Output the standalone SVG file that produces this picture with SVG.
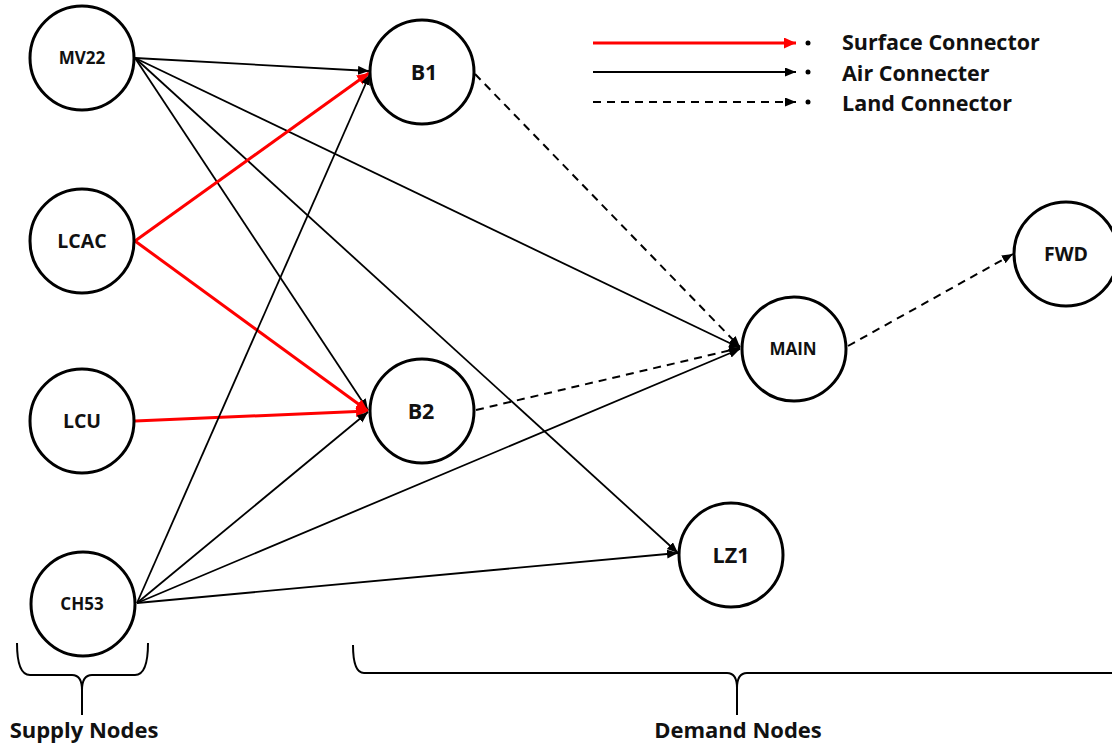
<svg xmlns="http://www.w3.org/2000/svg" width="1112" height="746" viewBox="0 0 1112 746">
<defs>
<marker id="ab" markerUnits="userSpaceOnUse" markerWidth="12" markerHeight="10" refX="11" refY="4.5" orient="auto"><path d="M0,0 L11,4.5 L0,9 z" fill="#000"/></marker>
<marker id="ar" markerUnits="userSpaceOnUse" markerWidth="14" markerHeight="12" refX="12" refY="5.5" orient="auto"><path d="M0,0 L12,5.5 L0,11 z" fill="#f00"/></marker>
<style>
.n{fill:#fff;stroke:#000;stroke-width:3}
.t{font-family:"Open Sans","Noto Sans",sans-serif;font-weight:bold;fill:#111;text-anchor:middle}
.air{stroke:#000;stroke-width:1.8;fill:none;marker-end:url(#ab)}
.sur{stroke:#f00;stroke-width:3;fill:none;marker-end:url(#ar)}
.land{stroke:#000;stroke-width:2;fill:none;stroke-dasharray:8 6;marker-end:url(#ab)}
.br{stroke:#000;stroke-width:2;fill:none}
.lg{font-family:"Open Sans","Noto Sans",sans-serif;font-weight:bold;font-size:21.5px;fill:#111}
.bl{font-family:"Open Sans","Noto Sans",sans-serif;font-weight:bold;font-size:22px;fill:#111;text-anchor:middle}
</style>
</defs>
<rect width="1112" height="746" fill="#fff"/>
<g id="connectors">
<line class="air" x1="135" y1="58" x2="369" y2="71"/>
<line class="air" x1="135" y1="58" x2="740" y2="348"/>
<line class="air" x1="135" y1="58" x2="368" y2="410"/>
<line class="air" x1="135" y1="58" x2="678" y2="553"/>
<line class="sur" x1="135" y1="241" x2="369" y2="73"/>
<line class="sur" x1="135" y1="241" x2="368" y2="411"/>
<line class="sur" x1="135" y1="421" x2="368" y2="411"/>
<line class="air" x1="137" y1="603" x2="370" y2="74"/>
<line class="air" x1="137" y1="603" x2="368" y2="412"/>
<line class="air" x1="137" y1="603" x2="740" y2="349"/>
<line class="air" x1="137" y1="603" x2="678" y2="553"/>
<line class="land" x1="475" y1="74" x2="740" y2="347"/>
<line class="land" x1="476" y1="410" x2="740" y2="348"/>
<line class="land" x1="848" y1="346" x2="1013" y2="254"/>
</g>
<g id="MV22"><circle class="n" cx="82" cy="58" r="52"/><text class="t" x="82" y="64" font-size="17">MV22</text></g>
<g id="LCAC"><circle class="n" cx="82" cy="241" r="52"/><text class="t" x="82" y="248" font-size="19.5">LCAC</text></g>
<g id="LCU"><circle class="n" cx="82" cy="421" r="52"/><text class="t" x="82" y="428" font-size="19.5">LCU</text></g>
<g id="CH53"><circle class="n" cx="83" cy="604" r="52"/><text class="t" x="82" y="610" font-size="17">CH53</text></g>
<g id="B1"><circle class="n" cx="422" cy="72" r="52"/><text class="t" x="424" y="80" font-size="21.5">B1</text></g>
<g id="B2"><circle class="n" cx="422" cy="411" r="52"/><text class="t" x="421" y="419" font-size="21.5">B2</text></g>
<g id="MAIN"><circle class="n" cx="794" cy="349" r="52"/><text class="t" x="793" y="355" font-size="17">MAIN</text></g>
<g id="LZ1"><circle class="n" cx="731" cy="555" r="52"/><text class="t" x="731" y="563" font-size="21.5">LZ1</text></g>
<g id="FWD"><circle class="n" cx="1066" cy="254" r="52"/><text class="t" x="1066" y="261" font-size="19.5">FWD</text></g>
<g id="legend">
<line class="sur" x1="593" y1="43" x2="796" y2="43"/>
<line class="air" x1="593" y1="72" x2="796" y2="72"/>
<line class="land" x1="593" y1="102" x2="796" y2="102"/>
<circle cx="808" cy="43" r="2.5" fill="#000"/>
<circle cx="808" cy="72" r="2.5" fill="#000"/>
<circle cx="808" cy="102" r="2.5" fill="#000"/>
<text class="lg" x="842" y="50">Surface Connector</text>
<text class="lg" x="842" y="81">Air Connecter</text>
<text class="lg" x="842" y="111">Land Connector</text>
</g>
<g id="supply-brace">
<path class="br" d="M17,643 Q17,675 30,675 L72,675 Q82,675 82,690 L82,715 M82,690 Q82,675 92,675 L135,675 Q148,675 148,643"/>
<text class="bl" x="84" y="738">Supply Nodes</text>
</g>
<g id="demand-brace">
<path class="br" d="M353,645 Q353,673 364,673 L727,673 Q737,673 737,688 L737,715 M737,688 Q737,673 747,673 L1112,673"/>
<text class="bl" x="738" y="738">Demand Nodes</text>
</g>
</svg>
